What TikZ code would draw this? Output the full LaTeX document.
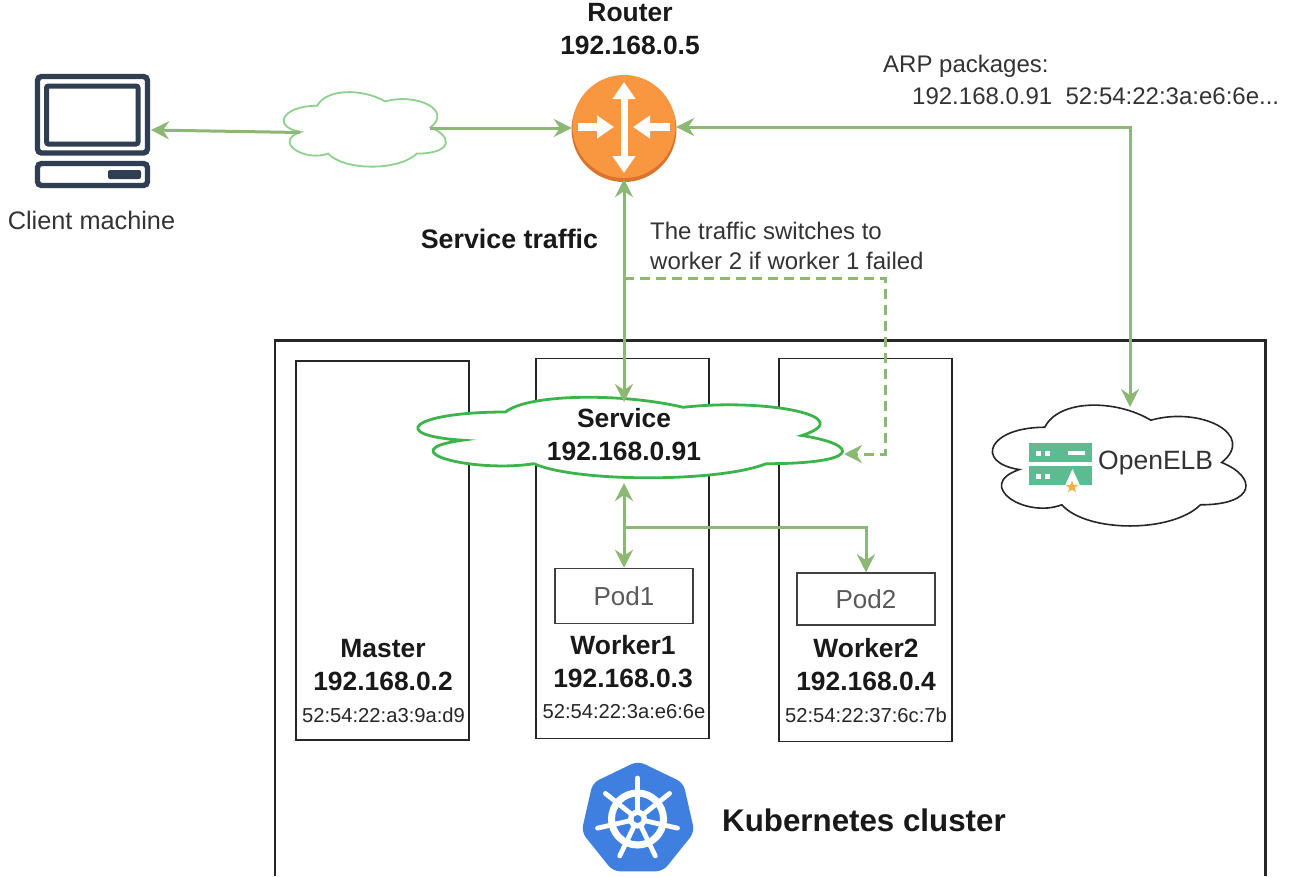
\documentclass[tikz,border=0pt]{standalone}
\usepackage{fontspec}
\setmainfont{Liberation Sans}
\usetikzlibrary{arrows.meta,shapes.geometric}
\definecolor{gline}{HTML}{8DB873}
\definecolor{gcloud}{HTML}{3CB44A}
\definecolor{lcloud}{HTML}{8FD08F}
\definecolor{slate}{HTML}{2F3E50}
\definecolor{txt}{HTML}{333333}
\definecolor{orangeA}{HTML}{F8973F}
\definecolor{orangeB}{HTML}{D8742C}
\definecolor{kblue}{HTML}{3F7FE0}
\definecolor{elb}{HTML}{5CBB90}
\definecolor{starcol}{HTML}{EFB04A}
\tikzset{
  gtip/.tip={Stealth[length=18pt,width=18pt,inset=6pt]},
  wire/.style={draw=gline,line width=3pt},
  one/.style={wire,-{gtip}},
  both/.style={wire,{gtip}-{gtip}},
  dash wire/.style={draw=gline,line width=3pt,dash pattern=on 10pt off 6pt,-{gtip}},
  hostbox/.style={draw=black!85,line width=1.5pt,fill=none,inner sep=0pt},
  podbox/.style={draw=black!75,line width=1.5pt,inner sep=0pt,minimum width=138pt,font=\fontsize{26}{28}\selectfont,text=black!65},
  lbl/.style={inner sep=0pt,align=center,text=txt,font=\fontsize{25.3}{31}\selectfont},
  blbl/.style={inner sep=0pt,align=center,text=black!90,font=\fontsize{26.4}{33}\selectfont\bfseries},
  mac/.style={inner sep=0pt,text=black!85,font=\fontsize{20.2}{22}\selectfont},
}
\newcommand{\drawiocloud}[5]{%
  \begin{scope}[shift={(#2,#3)},x=#4pt,y=-#5pt]
  \path[#1] (0.25,0.25) .. controls (0.05,0.25) and (0,0.5) .. (0.16,0.55)
    .. controls (0,0.66) and (0.18,0.9) .. (0.31,0.8)
    .. controls (0.4,1) and (0.7,1) .. (0.8,0.8)
    .. controls (1,0.8) and (1,0.6) .. (0.875,0.5)
    .. controls (1,0.3) and (0.8,0.1) .. (0.625,0.2)
    .. controls (0.5,0.05) and (0.3,0.05) .. (0.25,0.25) -- cycle;
  \end{scope}}
\begin{document}
\begin{tikzpicture}[x=1pt,y=-1pt]
\useasboundingbox[fill=white] (0,0) rectangle (1301,876);
% cluster
\draw[black!85,line width=2.2pt] (275,876) -- (275,340.5) -- (1265.5,340.5) -- (1265.5,876);
% hosts
\node[hostbox,minimum width=173pt,minimum height=379pt] (master) at (382.5,550.5) {};
\node[hostbox,minimum width=173pt,minimum height=380pt] (worker1) at (622.5,548.5) {};
\node[hostbox,minimum width=173pt,minimum height=383pt] (worker2) at (865.5,550) {};
\node[podbox,minimum height=55pt] (pod1) at (624,596) {Pod1};
\node[podbox,minimum height=52pt] (pod2) at (866,599) {Pod2};
% clouds
\drawiocloud{draw=lcloud,line width=1.8pt,fill=white}{272}{84}{181}{87}
\drawiocloud{draw=gcloud,line width=2.8pt,fill=white}{387}{388.5}{474}{94}
\drawiocloud{draw=black!85,line width=1.6pt,fill=white}{974}{392}{283}{141}
% router
\fill[orangeB] (624,129.5) circle (52.5);
\fill[orangeA] (624,126.5) circle (51.5);
\node[circle,minimum size=104pt,inner sep=0pt] (router) at (624,127) {};
\draw[white,line width=7pt,{Triangle[length=17pt,width=22pt]}-{Triangle[length=17pt,width=22pt]}] (624,82) -- (624,173);
\draw[white,line width=8pt,-{Triangle[length=17pt,width=22pt]}] (578,127) -- (614,127);
\draw[white,line width=8pt,-{Triangle[length=17pt,width=22pt]}] (670,127) -- (633,127);
% computer
\draw[slate,line width=5.4pt,rounded corners=4pt] (37.5,76.5) rectangle (147.5,153);
\draw[slate,line width=5pt,rounded corners=2pt] (46.5,86) rectangle (138,144);
\draw[slate,line width=5.4pt,rounded corners=4pt] (37.5,163.5) rectangle (147.5,185.5);
\fill[slate,rounded corners=2pt] (108,170) rectangle (141,179);
\coordinate (client) at (151,130);
\coordinate (cloudL) at (300,132.5);
\coordinate (cloudR) at (430,128);
% labels
\node[lbl] (clientlbl) at (91.5,220) {Client machine};
\node[blbl] (routerlbl) at (630,29.5) {Router\\192.168.0.5};
\node[lbl,anchor=west,font=\fontsize{24}{30}\selectfont] (arp1) at (883,66) {ARP packages:};
\node[lbl,anchor=west,font=\fontsize{24}{30}\selectfont] (arp2) at (912,96) {192.168.0.91\ \ 52:54:22:3a:e6:6e...};
\node[blbl,font=\fontsize{26.8}{30}\selectfont\bfseries] (traffic) at (509.5,239) {Service traffic};
\node[lbl,anchor=west,align=left,font=\fontsize{24}{30}\selectfont] (switch) at (650,246) {The traffic switches to\\worker 2 if worker 1 failed};
\node[blbl] (svc) at (624,435) {Service\\192.168.0.91};
\node[blbl] (mlbl) at (383,665) {Master\\192.168.0.2};
\node[blbl] (w1lbl) at (623,662) {Worker1\\192.168.0.3};
\node[blbl] (w2lbl) at (866,665) {Worker2\\192.168.0.4};
\node[mac] (mmac) at (383.5,715.5) {52:54:22:a3:9a:d9};
\node[mac] (w1mac) at (624,712) {52:54:22:3a:e6:6e};
\node[mac] (w2mac) at (866,715) {52:54:22:37:6c:7b};
\node[blbl,anchor=west,font=\fontsize{31.3}{34}\selectfont\bfseries] (k8s) at (722,820) {Kubernetes cluster};
% OpenELB
\fill[elb] (1029,443) rectangle (1092,462);
\fill[elb] (1029,466) rectangle (1092,485);
\fill[white] (1036,450.5) rectangle +(5,5);
\fill[white] (1045,450.5) rectangle +(5,5);
\fill[white] (1068,450.5) rectangle (1085,454.5);
\fill[white] (1036,473.5) rectangle +(5,5);
\fill[white] (1045,473.5) rectangle +(5,5);
\fill[white] (1065,485.5) -- (1072.5,469) -- (1080,485.5) -- cycle;
\node[star,star points=5,star point ratio=2.4,fill=starcol,inner sep=0pt,minimum size=13pt] (elbstar) at (1072,487) {};
\node[lbl,anchor=west,font=\fontsize{26.5}{30}\selectfont] (elblbl) at (1098,463) {OpenELB};
\coordinate (elbtop) at (1130,407);
% Kubernetes logo
\fill[kblue,rounded corners=7pt] (638,761) -- (683.3,782.8) -- (694.5,832) -- (663,871.3) -- (613,871.3) -- (581.5,832) -- (592.7,782.8) -- cycle;
\begin{scope}[shift={(637.5,819)}]
\draw[white,line width=7pt] (0,0) circle (26);
\foreach \a in {-90,-38.57,12.86,64.29,115.71,167.14,218.57}
  \draw[white,line width=4.8pt,line cap=round] (0,0) -- (\a:41);
\fill[white] (0,0) circle (9.5);
\fill[kblue] (0,0) circle (4);
\end{scope}
% connectors
\draw[one] (cloudL) -- (client);
\draw[one] (cloudR) -- (router.west |- cloudR);
\coordinate (svcTop) at (624,402);
\coordinate (svcBot) at (624,483);
\coordinate (svcR) at (844,454);
\coordinate (dashStart) at (624,278);
\coordinate (branch) at (624,527);
\draw[both] (router.south) -- (svcTop);
\draw[both] (router.east) -| (elbtop);
\draw[dash wire] (dashStart) -| (885,454) -- (svcR);
\draw[both] (svcBot) -- (pod1.north);
\draw[one] (branch) -| (pod2.north);
\end{tikzpicture}
\end{document}
